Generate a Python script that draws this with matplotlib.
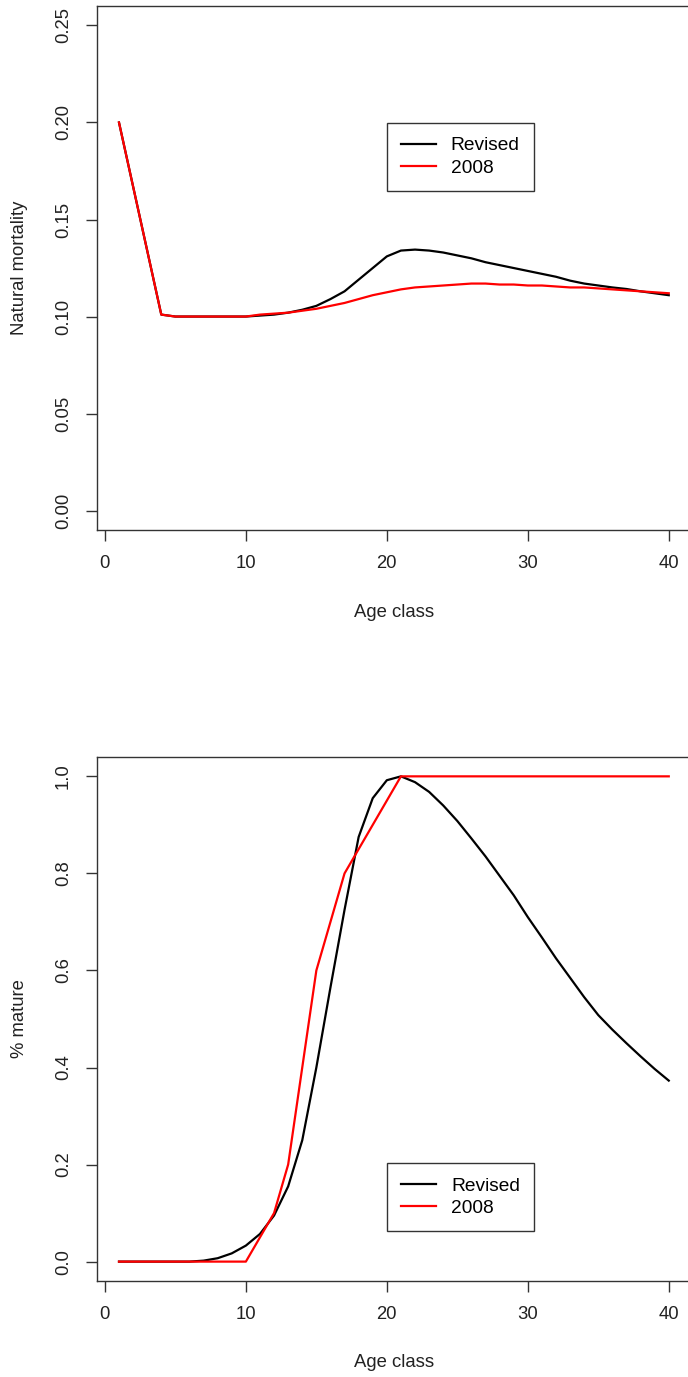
import matplotlib
matplotlib.use("Agg")
import matplotlib.pyplot as plt

plt.rcParams['font.family'] = ['Liberation Sans', 'DejaVu Sans']
plt.rcParams['font.size'] = 13.3

age = list(range(1, 41))

# natural mortality by age class
mort_revised = [0.200, 0.167, 0.134, 0.101, 0.100, 0.100, 0.100, 0.100, 0.100, 0.100,
                0.1005, 0.101, 0.102, 0.1035, 0.1055, 0.109, 0.113, 0.119, 0.125, 0.131,
                0.134, 0.1345, 0.134, 0.133, 0.1315, 0.130, 0.128, 0.1265, 0.125, 0.1235,
                0.122, 0.1205, 0.1185, 0.117, 0.116, 0.115, 0.1142, 0.113, 0.112, 0.111]
mort_2008 = [0.200, 0.167, 0.134, 0.101, 0.100, 0.100, 0.100, 0.100, 0.100, 0.100,
             0.101, 0.1015, 0.102, 0.103, 0.104, 0.1055, 0.107, 0.109, 0.111, 0.1125,
             0.114, 0.115, 0.1155, 0.116, 0.1165, 0.117, 0.117, 0.1165, 0.1165, 0.116,
             0.116, 0.1155, 0.115, 0.115, 0.1145, 0.114, 0.1135, 0.113, 0.1125, 0.112]

# proportion mature by age class
mat_revised = [0, 0, 0, 0, 0, 0, 0.002, 0.007, 0.017, 0.033,
               0.057, 0.095, 0.155, 0.25, 0.40, 0.565, 0.725, 0.875, 0.955, 0.992,
               1.0, 0.988, 0.968, 0.94, 0.908, 0.872, 0.835, 0.795, 0.755, 0.71,
               0.668, 0.625, 0.585, 0.545, 0.508, 0.478, 0.45, 0.423, 0.397, 0.373]
mat_2008 = [0, 0, 0, 0, 0, 0, 0, 0, 0, 0,
            0.05, 0.1, 0.2, 0.4, 0.6, 0.7, 0.8, 0.85, 0.9, 0.95,
            1, 1, 1, 1, 1, 1, 1, 1, 1, 1,
            1, 1, 1, 1, 1, 1, 1, 1, 1, 1]

series_labels = ["Revised", "2008"]
x_ticks = [0, 10, 20, 30, 40]
mort_ticks = [0.00, 0.05, 0.10, 0.15, 0.20, 0.25]
mat_ticks = [0.0, 0.2, 0.4, 0.6, 0.8, 1.0]

fig = plt.figure(figsize=(6.88, 13.77), dpi=100)
ax1 = fig.add_axes([0.141, 0.6151, 0.863, 0.3805])
ax2 = fig.add_axes([0.141, 0.0697, 0.863, 0.3806])


def style(ax, yticks, ylim, ylabel, fmt):
    ax.set_xlim(-0.56, 41.56)
    ax.set_ylim(*ylim)
    ax.set_xticks(x_ticks)
    ax.set_yticks(yticks)
    ax.set_yticklabels([fmt % v for v in yticks], rotation=90, va='center')
    for s in ax.spines.values():
        s.set_linewidth(1.0)
        s.set_color('#333333')
    ax.tick_params(length=8, width=1.0, color='#333333', pad=10, labelcolor='#222222')
    ax.set_xlabel("Age class", color='#222222')
    ax.set_ylabel(ylabel, color='#222222')
    ax.xaxis.label.set_va('center')
    ax.yaxis.label.set_va('center')


ax1.plot(age, mort_revised, color='black', lw=1.6, label=series_labels[0])
ax1.plot(age, mort_2008, color='red', lw=1.6, label=series_labels[1])
style(ax1, mort_ticks, (-0.01, 0.26), "Natural mortality", "%.2f")
ax1.xaxis.set_label_coords(0.5, -0.1565)
ax1.yaxis.set_label_coords(-0.1297, 0.5)

ax2.plot(age, mat_revised, color='black', lw=1.6, label=series_labels[0])
ax2.plot(age, mat_2008, color='red', lw=1.6, label=series_labels[1])
style(ax2, mat_ticks, (-0.04, 1.04), "% mature", "%.1f")
ax2.xaxis.set_label_coords(0.5, -0.1546)
ax2.yaxis.set_label_coords(-0.1297, 0.5)

for ax, anchor in [(ax1, (0.562, 0.9109)), (ax2, (0.5625, 0.1554))]:
    leg = ax.legend(loc='upper left', bbox_to_anchor=anchor, bbox_transform=fig.transFigure,
                    borderaxespad=0, fancybox=False, framealpha=1, edgecolor='#333333',
                    fontsize=13.8, handlelength=1.8, handletextpad=0.8, labelspacing=0.25,
                    borderpad=0.75)
    leg.get_frame().set_linewidth(1.0)

fig.savefig("out.png", dpi=100)
